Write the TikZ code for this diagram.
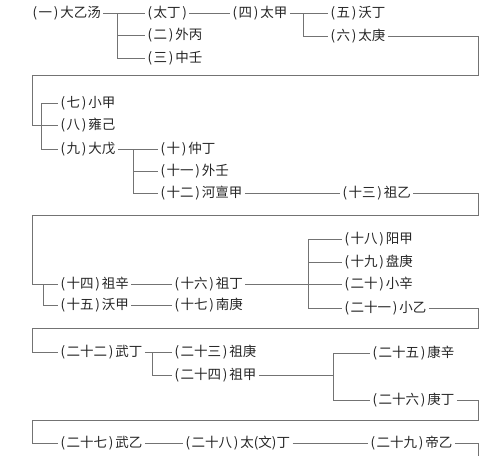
\documentclass[tikz,border=0pt]{standalone}
\usepackage{fontspec}
\setmainfont{Noto Sans CJK SC}
\newcommand\pnum[1]{(\kern0.12em#1\kern0.12em)\kern0.15em}
\begin{document}
\begin{tikzpicture}[x=1pt,y=1pt,
  lbl/.style={anchor=west,inner sep=0pt,outer xsep=2.5pt,text=black!85,font=\fontsize{13.5}{15}\selectfont},
  ln/.style={draw=black!55,line width=0.7pt}]
\useasboundingbox (0,0) rectangle (500,-456);
% nodes
\node[lbl] (n1) at (30,-13) {\pnum{一}大乙汤};
\node[lbl] (nt) at (145,-13) {(\kern0.12em太丁\kern0.12em)};
\node[lbl] (n4) at (230,-13) {\pnum{四}太甲};
\node[lbl] (n5) at (328,-13) {\pnum{五}沃丁};
\node[lbl] (n2) at (145,-35) {\pnum{二}外丙};
\node[lbl] (n3) at (145,-58) {\pnum{三}中壬};
\node[lbl] (n6) at (328,-36) {\pnum{六}太庚};
\node[lbl] (n7) at (58,-103) {\pnum{七}小甲};
\node[lbl] (n8) at (58,-125) {\pnum{八}雍己};
\node[lbl] (n9) at (58,-149) {\pnum{九}大戊};
\node[lbl] (n10) at (158,-149) {\pnum{十}仲丁};
\node[lbl] (n11) at (158,-171) {\pnum{十一}外壬};
\node[lbl] (n12) at (158,-193) {\pnum{十二}河亶甲};
\node[lbl] (n13) at (340,-193) {\pnum{十三}祖乙};
\node[lbl] (n14) at (58,-284) {\pnum{十四}祖辛};
\node[lbl] (n15) at (58,-305) {\pnum{十五}沃甲};
\node[lbl] (n16) at (172,-284) {\pnum{十六}祖丁};
\node[lbl] (n17) at (172,-305) {\pnum{十七}南庚};
\node[lbl] (n18) at (342,-239) {\pnum{十八}阳甲};
\node[lbl] (n19) at (342,-262) {\pnum{十九}盘庚};
\node[lbl] (n20) at (342,-284) {\pnum{二十}小辛};
\node[lbl] (n21) at (342,-308) {\pnum{二十一}小乙};
\node[lbl] (n22) at (58,-352) {\pnum{二十二}武丁};
\node[lbl] (n23) at (172,-352) {\pnum{二十三}祖庚};
\node[lbl] (n24) at (172,-375) {\pnum{二十四}祖甲};
\node[lbl] (n25) at (370,-353) {\pnum{二十五}康辛};
\node[lbl] (n26) at (370,-400) {\pnum{二十六}庚丁};
\node[lbl] (n27) at (58,-443) {\pnum{二十七}武乙};
\node[lbl] (n28) at (183,-443) {\pnum{二十八}太(文)丁};
\node[lbl] (n29) at (368,-443) {\pnum{二十九}帝乙};
% branch coordinates
\coordinate (b1) at (117,-13);
\coordinate (b4) at (303,-13);
\coordinate (r1) at (478,-75);
\coordinate (l1) at (32,-75);
\coordinate (b7) at (41,-103);
\coordinate (b9) at (133,-149);
\coordinate (r2) at (478,-215);
\coordinate (l2) at (32,-215);
\coordinate (b14) at (43,-284);
\coordinate (b18) at (308,-239);
\coordinate (r3) at (478,-328);
\coordinate (l3) at (32,-328);
\coordinate (b22) at (152,-352);
\coordinate (b25) at (333,-353);
\coordinate (r4) at (478,-420);
\coordinate (l4) at (32,-420);
\coordinate (r5) at (478,-456);
% row 1
\draw[ln] (n1.east) -- (nt.west);
\draw[ln] (b1) |- (n2.west);
\draw[ln] (b1) |- (n3.west);
\draw[ln] (nt.east) -- (n4.west);
\draw[ln] (n4.east) -- (n5.west);
\draw[ln] (b4) |- (n6.west);
\draw[ln] (n6.east) -| (r1) -- (l1) |- (n8.west);
% row 2
\draw[ln] (b7) -- (n7.west);
\draw[ln] (b7) |- (n9.west);
\draw[ln] (n9.east) -- (n10.west);
\draw[ln] (b9) |- (n11.west);
\draw[ln] (b9) |- (n12.west);
\draw[ln] (n12.east) -- (n13.west);
\draw[ln] (n13.east) -| (r2) -- (l2) |- (n14.west);
% row 3
\draw[ln] (b14) |- (n15.west);
\draw[ln] (n14.east) -- (n16.west);
\draw[ln] (n15.east) -- (n17.west);
\draw[ln] (n16.east) -- (n20.west);
\draw[ln] (b18) -- (n18.west);
\draw[ln] (b18) |- (n19.west);
\draw[ln] (b18) |- (n21.west);
\draw[ln] (n21.east) -| (r3) -- (l3) |- (n22.west);
% row 4
\draw[ln] (n22.east) -- (n23.west);
\draw[ln] (b22) |- (n24.west);
\draw[ln] (n24.east) -- (b25 |- n24.east);
\draw[ln] (b25) -- (n25.west);
\draw[ln] (b25) |- (n26.west);
\draw[ln] (n26.east) -| (r4) -- (l4) |- (n27.west);
% row 5
\draw[ln] (n27.east) -- (n28.west);
\draw[ln] (n28.east) -- (n29.west);
\draw[ln] (n29.east) -| (r5);
\end{tikzpicture}
\end{document}
